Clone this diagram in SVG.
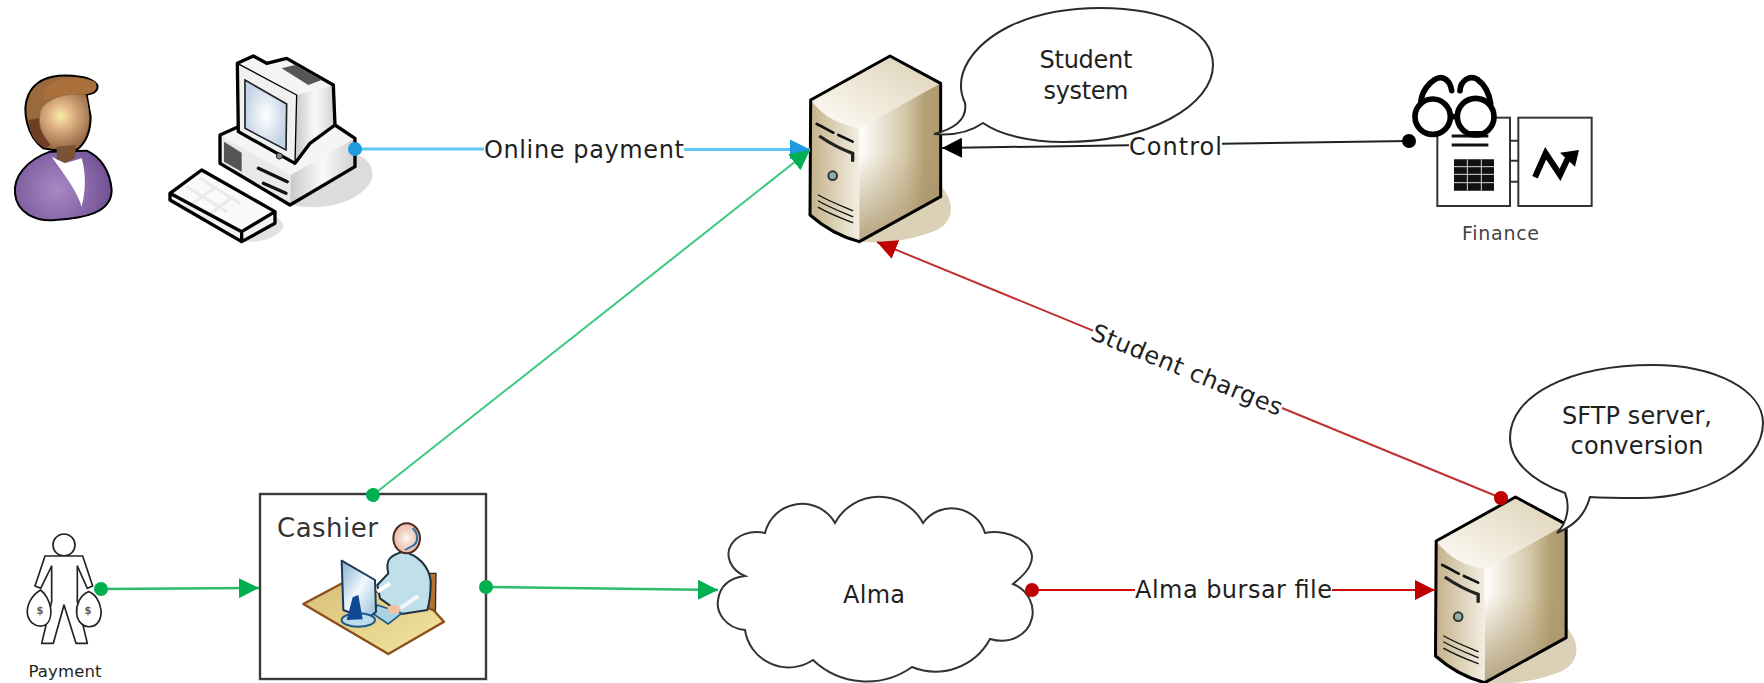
<svg xmlns="http://www.w3.org/2000/svg" xmlns:xlink="http://www.w3.org/1999/xlink" width="1764" height="683" viewBox="0 0 1764 683">
<style>
text{font-family:"DejaVu Sans","Liberation Sans",sans-serif;fill:#1f1f1f}
.lb{font-size:24px}
.bub{fill:#fff;stroke:#2b2b2b;stroke-width:2}
.box{fill:#fff;stroke:#3a3a3a;stroke-width:2.4}
.conn{fill:none}
.ol{stroke:#000;stroke-linejoin:round;stroke-linecap:round}
.hole{fill:none;stroke:#111;stroke-linecap:round}
</style>
<defs>
<marker id="dB" markerUnits="userSpaceOnUse" markerWidth="16" markerHeight="16" refX="8" refY="8" orient="auto"><circle cx="8" cy="8" r="7" fill="#1e9be0"/></marker>
<marker id="aB" markerUnits="userSpaceOnUse" markerWidth="20" markerHeight="20" refX="20" refY="10" orient="auto"><path d="M0,0L20,10L0,20Z" fill="#1e9be0"/></marker>
<marker id="dG" markerUnits="userSpaceOnUse" markerWidth="16" markerHeight="16" refX="8" refY="8" orient="auto"><circle cx="8" cy="8" r="7" fill="#00b050"/></marker>
<marker id="aG" markerUnits="userSpaceOnUse" markerWidth="20" markerHeight="20" refX="20" refY="10" orient="auto"><path d="M0,0L20,10L0,20Z" fill="#00b050"/></marker>
<marker id="dR" markerUnits="userSpaceOnUse" markerWidth="16" markerHeight="16" refX="8" refY="8" orient="auto"><circle cx="8" cy="8" r="7" fill="#c00000"/></marker>
<marker id="aR" markerUnits="userSpaceOnUse" markerWidth="20" markerHeight="20" refX="20" refY="10" orient="auto"><path d="M0,0L20,10L0,20Z" fill="#c00000"/></marker>
<marker id="dK" markerUnits="userSpaceOnUse" markerWidth="16" markerHeight="16" refX="8" refY="8" orient="auto"><circle cx="8" cy="8" r="7" fill="#000"/></marker>
<marker id="aK" markerUnits="userSpaceOnUse" markerWidth="20" markerHeight="20" refX="20" refY="10" orient="auto"><path d="M0,0L20,10L0,20Z" fill="#000"/></marker>
<linearGradient id="sTop" x1="0" y1="1" x2="1" y2="0"><stop offset="0" stop-color="#fffdf8"/><stop offset="1" stop-color="#dcd0b4"/></linearGradient>
<linearGradient id="sFront" x1="0" y1="0" x2="1" y2="0"><stop offset="0" stop-color="#c4b188"/><stop offset="1" stop-color="#f3eee2"/></linearGradient>
<linearGradient id="sSide" x1="0" y1="0" x2="1" y2="0"><stop offset="0" stop-color="#fffefb"/><stop offset=".55" stop-color="#d6c9aa"/><stop offset=".8" stop-color="#b3a075"/><stop offset="1" stop-color="#ad9a6e"/></linearGradient>
<linearGradient id="sSide2" x1="0" y1="0" x2="0" y2="1"><stop offset=".45" stop-color="#a8946a" stop-opacity="0"/><stop offset="1" stop-color="#a8946a" stop-opacity=".85"/></linearGradient>
<radialGradient id="face" gradientUnits="userSpaceOnUse" cx="182" cy="258" r="95"><stop offset="0" stop-color="#f7eca4"/><stop offset=".35" stop-color="#e3b888"/><stop offset="1" stop-color="#9d6e4a"/></radialGradient>
<radialGradient id="shirt" gradientUnits="userSpaceOnUse" cx="170" cy="480" r="170"><stop offset="0" stop-color="#a889c4"/><stop offset="1" stop-color="#6f4f92"/></radialGradient>
<linearGradient id="mSide" x1="0" y1="0" x2="1" y2="0"><stop offset="0" stop-color="#c8c8c8"/><stop offset=".5" stop-color="#fafafa"/><stop offset="1" stop-color="#d0d0d0"/></linearGradient>
<radialGradient id="scr"><stop offset="0" stop-color="#ffffff"/><stop offset="1" stop-color="#c4d3e6"/></radialGradient>
<linearGradient id="desk" x1="0" y1="0" x2="1" y2="1"><stop offset="0" stop-color="#d9be78"/><stop offset="1" stop-color="#f1e6a0"/></linearGradient>
<linearGradient id="mon" x1="0" y1="0" x2="1" y2="1"><stop offset="0" stop-color="#7fb0d0"/><stop offset=".5" stop-color="#f2f8fc"/><stop offset="1" stop-color="#8fbcd8"/></linearGradient>
<radialGradient id="hd"><stop offset="0" stop-color="#fdf6f2"/><stop offset="1" stop-color="#e7b8a0"/></radialGradient>
<g id="server">
<path d="M230,722C300,735 400,720 470,690C520,665 530,610 480,555Z" fill="#dcd1b7"/>
<path d="M92,300L330,168L482,250L238,385C180,375 130,350 92,300Z" fill="url(#sTop)"/>
<path d="M92,300C130,350 180,375 238,385L238,725C180,710 130,680 90,645Z" fill="url(#sFront)"/>
<path d="M238,385L482,250L482,590L238,725Z" fill="url(#sSide)"/>
<path d="M238,385L482,250L482,590L238,725Z" fill="url(#sSide2)"/>
<path d="M92,300L330,168L482,250L482,590L238,725C180,710 130,680 90,645Z" fill="none" stroke="#000" stroke-width="9" stroke-linejoin="round"/>
<path d="M110,372C130,380 145,392 160,398M175,405L218,425" class="hole" stroke-width="8"/>
<path d="M118,408C150,430 190,450 218,460L218,485" fill="none" stroke="#222" stroke-width="10"/>
<circle cx="158" cy="527" r="13" fill="#8fb0a8" stroke="#333" stroke-width="6"/>
<path d="M115,585C150,605 190,620 218,632M115,603C150,623 190,638 218,650M115,622C150,642 190,657 218,668" class="hole" stroke-width="4"/>
</g>
</defs>
<rect width="1764" height="683" fill="#fff"/>

<g id="user" transform="translate(0,30) scale(.33333)">
<path d="M150,365C80,390 40,440 45,490C50,550 110,575 165,570C250,565 335,550 335,480C330,420 300,380 260,362Z" fill="url(#shirt)" stroke="#000" stroke-width="6"/>
<path d="M155,380L195,400L245,385C258,430 258,480 245,530C230,480 190,430 155,380Z" fill="#fff"/>
<path d="M130,355C80,320 65,240 85,195C110,140 170,130 240,140C280,145 300,165 290,180C280,195 265,190 260,195L272,260C272,310 255,340 230,360L160,360Z" fill="#9a6a3c" stroke="#000" stroke-width="6"/>
<path d="M130,180C170,135 240,135 285,155C295,170 285,188 262,192C220,190 170,195 130,215Z" fill="#a9703c"/>
<path d="M85,270C90,320 110,345 140,355L155,340C125,320 115,290 118,265Z" fill="#6e3f25"/>
<path d="M122,245C135,205 200,188 258,196C275,260 265,320 230,352L158,352C130,320 112,285 122,245Z" fill="url(#face)"/>
<path d="M170,350L228,345L225,385L195,398L170,388Z" fill="#7a5236"/>
</g>

<g id="computer" transform="translate(0,30) scale(.33333)">
<path d="M880,525C960,545 1080,520 1115,450C1125,410 1100,380 1065,375Z" fill="#dcdcdc"/>
<path d="M725,635C780,640 840,620 850,590C845,570 835,565 825,560Z" fill="#e2e2e2"/>
<path d="M660,315L715,290L1005,285L1065,325L870,435Z" fill="#f5f5f5"/>
<path d="M660,315L872,435L870,525L660,400Z" fill="#e9e9e9"/>
<path d="M872,435L1065,325L1065,410L870,525Z" fill="url(#mSide)"/>
<path d="M715,290L660,315L660,400L870,525L1065,410L1065,325L1005,285" class="ol" fill="none" stroke-width="10"/>
<path d="M672,335L725,368L725,425L672,395Z" fill="#555"/>
<path d="M775,415L862,455M790,460L858,490" class="hole" stroke-width="10"/>
<path d="M712,100L890,195L885,400L715,305Z" fill="#f0f0f0"/>
<path d="M712,100L760,78L800,100L860,85L1000,165L890,195Z" fill="#f4f4f4"/>
<path d="M890,195L1000,165L1005,285L930,340L885,400Z" fill="url(#mSide)"/>
<path d="M712,100L760,78L800,100L860,85L1000,165L1005,285L930,340L885,400L715,305Z" class="ol" fill="none" stroke-width="10"/>
<path d="M712,100L890,195L885,400" class="ol" fill="none" stroke-width="4"/>
<path d="M735,150L860,222L858,360L735,295Z" fill="url(#scr)" stroke="#222" stroke-width="5"/>
<path d="M845,115L885,105L965,150L925,165Z" fill="#555"/>
<circle cx="838" cy="378" r="9" fill="#888" stroke="#222" stroke-width="3"/>
<path d="M510,490L605,420L825,545L825,580L725,635L510,510Z" fill="#f2f2f2"/>
<path d="M510,490L605,420L825,545L725,605Z" fill="#fafafa"/>
<path d="M560,470L680,545M600,445L720,520M650,470L550,540M700,500L610,565" stroke="#ebebeb" stroke-width="10" fill="none"/>
<path d="M510,490L605,420L825,545L825,580L725,635L510,510ZM510,490L725,605L825,545M725,605L725,635" class="ol" fill="none" stroke-width="10"/>
</g>

<g id="student-system">
<use xlink:href="#server" href="#server" transform="translate(780,0) scale(.33333)"/>
<path class="bub" d="M965,103C952,75 972,45 1010,26C1040,12 1070,8 1100,8C1165,8 1213,30 1213,65C1213,105 1150,142 1063,142C1030,142 1000,135 983,123C970,132 955,136 934,134C950,130 968,122 965,103Z"/>
<text class="lb" x="1086" y="68" text-anchor="middle" textLength="93">Student</text>
<text class="lb" x="1086" y="99" text-anchor="middle" textLength="85">system</text>
</g>

<g id="sftp-server">
<use xlink:href="#server" href="#server" transform="translate(1405.5,441) scale(.33333)"/>
<path class="bub" d="M1565,493C1530,480 1510,460 1510,438C1510,395 1570,365 1653,365C1715,365 1763,390 1763,423C1763,465 1705,498 1640,498C1620,498 1605,498 1590,497C1585,515 1575,525 1557,533C1568,522 1570,505 1565,493Z"/>
<text class="lb" x="1637" y="424" text-anchor="middle" textLength="150">SFTP server,</text>
<text class="lb" x="1637" y="454" text-anchor="middle" textLength="133">conversion</text>
</g>

<g id="finance" transform="translate(1380,70) scale(.33333)">
<rect x="172" y="143" width="218" height="265" fill="#fff" stroke="#333" stroke-width="6"/>
<rect x="415" y="143" width="220" height="265" fill="#fff" stroke="#333" stroke-width="6"/>
<path d="M390,212H415M390,272H415M390,335H415" stroke="#333" stroke-width="6"/>
<path d="M215,198H325M215,225H325" stroke="#111" stroke-width="9"/>
<path d="M222,268H342V362H222Z" fill="#111"/>
<path d="M222,290H342M222,313H342M222,338H342M262,268V362M304,268V362" stroke="#ddd" stroke-width="3"/>
<path d="M465,322L497,250L540,315L565,262" fill="none" stroke="#000" stroke-width="18"/>
<path d="M540,248L597,240L585,290Z" fill="#000"/>
<path d="M122,100C125,50 170,15 192,25C208,32 213,48 215,62M240,62C242,30 270,15 292,28C320,48 328,75 332,100" fill="none" stroke="#000" stroke-width="17" stroke-linecap="round"/>
<circle cx="158" cy="140" r="53" fill="#fff" stroke="#000" stroke-width="17"/>
<circle cx="287" cy="140" r="55" fill="#fff" stroke="#000" stroke-width="17"/>
<path d="M210,140H234" stroke="#000" stroke-width="17"/>
<path d="M250,186H322" stroke="#000" stroke-width="6"/>
</g>
<text id="finance-label" x="1500.5" y="240" text-anchor="middle" font-size="19" textLength="77" style="fill:#444">Finance</text>

<g id="payment">
<g transform="translate(0,480) scale(.33333)" fill="#fff" stroke="#222" stroke-width="5" stroke-linejoin="round">
<circle cx="192" cy="195" r="33"/>
<path d="M135,228H248L278,318L262,325L232,258L232,365L262,490H228L192,375L160,490H125L155,365L155,258L122,325L105,318Z"/>
<path d="M122,330C95,345 80,375 82,400C85,425 105,440 125,438C145,435 155,415 152,385C150,365 135,340 122,330Z"/>
<path d="M265,335C240,345 228,375 230,400C232,425 250,442 270,440C295,438 305,415 303,390C300,365 285,340 265,335Z"/>
</g>
<text x="40" y="614" text-anchor="middle" font-size="10" font-weight="bold" style="fill:#7a5a40">$</text>
<text x="88" y="614" text-anchor="middle" font-size="10" font-weight="bold" style="fill:#7a5a40">$</text>
<text x="65" y="677" text-anchor="middle" font-size="16.5" textLength="73">Payment</text>
</g>

<g id="cashier">
<rect class="box" x="260" y="494" width="226" height="185"/>
<text class="lb" x="277" y="537" textLength="101" style="font-size:26px;fill:#333">Cashier</text>
<g transform="translate(290,510) scale(.33333)">
<path d="M410,190L438,190L436,320L405,300Z" fill="#b5722a" stroke="#2a2a2a" stroke-width="4"/>
<path d="M40,282L165,215L430,300L462,335L295,432Z" fill="url(#desk)" stroke="#8a4e18" stroke-width="7" stroke-linejoin="round"/>
<path d="M262,225L295,190C285,150 300,135 340,125C385,135 418,170 422,215C422,250 418,280 412,300L335,312L270,265Z" fill="#bfe0ea" stroke="#1c3040" stroke-width="6" stroke-linejoin="round"/>
<ellipse cx="350" cy="85" rx="40" ry="45" fill="url(#hd)" stroke="#4a2a20" stroke-width="6"/>
<path d="M368,55C385,70 385,95 372,105L345,120" fill="none" stroke="#2a6fa8" stroke-width="6"/>
<path d="M262,285L335,310L295,342L250,312Z" fill="#a8d2e2" stroke="#1e5a88" stroke-width="5"/>
<path d="M262,245L300,220" stroke="#fff" stroke-width="12"/>
<path d="M330,295L385,258" stroke="#f2f8fa" stroke-width="12"/>
<ellipse cx="312" cy="298" rx="20" ry="14" fill="#f0c0a8"/>
<path d="M155,152L255,210L258,305L232,328L160,300Z" fill="url(#mon)" stroke="#1c3a58" stroke-width="6" stroke-linejoin="round"/>
<ellipse cx="205" cy="330" rx="50" ry="20" fill="#bcdcec" stroke="#1e5a88" stroke-width="6"/>
<path d="M188,262L205,255L218,328L170,330Z" fill="#0e4a94"/>
</g>
</g>

<g id="alma">
<path fill="#fff" stroke="#333" stroke-width="2" d="M745,576C730,570 725,555 731,545C737,535 750,530 765,533A38,38 0 0 1 835,523A50,50 0 0 1 923,523A35,35 0 0 1 985,533C1010,528 1040,545 1030,565C1027,573 1020,578 1013,584C1028,590 1035,605 1032,618C1028,635 1010,645 990,639A62,62 0 0 1 912,667A78,78 0 0 1 813,660A44,44 0 0 1 745,630C725,628 716,612 718,600C720,585 730,578 745,576Z"/>
<text class="lb" x="874" y="603" text-anchor="middle" textLength="62">Alma</text>
</g>

<g id="connectors" class="conn">
<path d="M355,149H484M684,149.4H810" stroke="#5bc8f5" stroke-width="3" marker-start="url(#dB)" marker-end="url(#aB)"/>
<path d="M373,495L810,150" stroke="#3cc880" stroke-width="2" marker-start="url(#dG)" marker-end="url(#aG)"/>
<path d="M1409,141L1222,143.8M1129,145.2L942,148" stroke="#222" stroke-width="2" marker-start="url(#dK)" marker-end="url(#aK)"/>
<path d="M1501,498L1282,408M1093,330.6L877,242" stroke="#c03030" stroke-width="2" marker-start="url(#dR)" marker-end="url(#aR)"/>
<path d="M101,589L259,588" stroke="#2dbb6b" stroke-width="2.5" marker-start="url(#dG)" marker-end="url(#aG)"/>
<path d="M486,587L718,590" stroke="#2dbb6b" stroke-width="2.5" marker-start="url(#dG)" marker-end="url(#aG)"/>
<path d="M1032,590H1135M1332,590H1435" stroke="#d01010" stroke-width="2" marker-start="url(#dR)" marker-end="url(#aR)"/>
<text class="lb" x="484" y="158" textLength="200">Online payment</text>
<text class="lb" x="1129" y="155" textLength="93">Control</text>
<text class="lb" x="1135" y="598" textLength="197">Alma bursar file</text>
<text class="lb" x="1187" y="378" text-anchor="middle" textLength="204" transform="rotate(22.3 1187 370)">Student charges</text>
</g>
</svg>
